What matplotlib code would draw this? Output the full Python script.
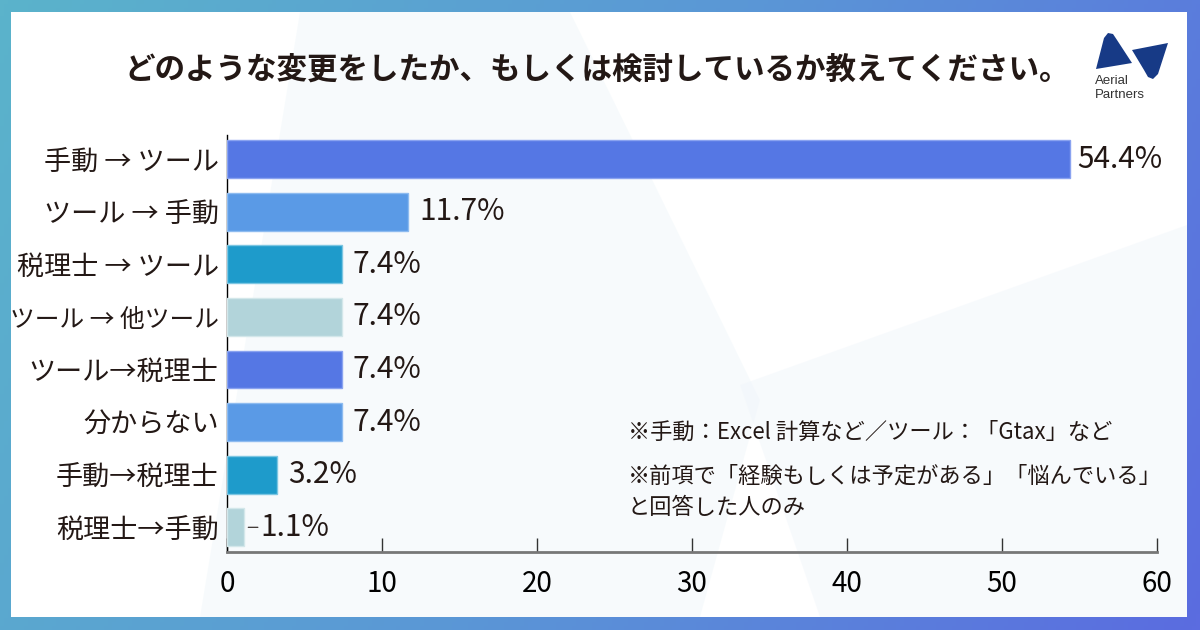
import numpy as np
import matplotlib
matplotlib.use("Agg")
import matplotlib.pyplot as plt
from matplotlib.patches import Rectangle, Polygon
from matplotlib.colors import LinearSegmentedColormap

plt.rcParams['font.family'] = ['Noto Sans CJK JP', 'DejaVu Sans']

# -----------------------------
# Data
# -----------------------------
categories = [
    "手動 → ツール",
    "ツール → 手動",
    "税理士 → ツール",
    "ツール → 他ツール",
    "ツール→税理士",
    "分からない",
    "手動→税理士",
    "税理士→手動",
]
values = [54.4, 11.7, 7.4, 7.4, 7.4, 7.4, 3.2, 1.1]
value_labels = ["54.4%", "11.7%", "7.4%", "7.4%", "7.4%", "7.4%", "3.2%", "1.1%"]
x_ticks = [0, 10, 20, 30, 40, 50, 60]

title = "どのような変更をしたか、もしくは検討しているか教えてください。"
notes = [
    "※手動：Excel 計算など／ツール：「Gtax」など",
    "※前項で「経験もしくは予定がある」「悩んでいる」",
    "と回答した人のみ",
]

bar_colors = ["#5577e4", "#5a9ae6", "#1e9bcb", "#b2d4da"]
edge_colors = ["#8aa3f0", "#8dbbf0", "#7cc6e2", "#d3e7ea"]
TEXT = "#231815"

W, H = 1200, 630


def px(x, y):
    # pixel (from top-left) -> figure fraction
    return (x / W, 1 - y / H)


fig = plt.figure(figsize=(12, 6.3), dpi=100)

# gradient frame
bg = fig.add_axes([0, 0, 1, 1], zorder=-10)
bg.set_axis_off()
gx, gy = np.meshgrid(np.linspace(0, 1, 300), np.linspace(0, 1, 160))
grad = 0.8 * gx + 0.2 * gy
cmap = LinearSegmentedColormap.from_list("frame", ["#5bb3cb", "#5a97d6", "#5b6ce0"])
bg.imshow(grad, cmap=cmap, extent=[0, 1, 0, 1], aspect="auto", origin="upper")
bg.set_xlim(0, 1)
bg.set_ylim(0, 1)
x0, y0 = px(11, 617)
x1, y1 = px(1187, 12)
bg.add_patch(Rectangle((x0, y0), x1 - x0, y1 - y0, facecolor="white", edgecolor="none"))

# faint background shapes
shape1 = [px(300, 12), px(570, 12), px(760, 400), px(700, 617), px(200, 617)]
bg.add_patch(Polygon(shape1, closed=True, facecolor="#eef6fa", edgecolor="none", alpha=0.45))
shape2 = [px(740, 385), px(1187, 225), px(1187, 617), px(820, 617)]
bg.add_patch(Polygon(shape2, closed=True, facecolor="#f1f6fb", edgecolor="none", alpha=0.5))

# logo
logo_c = "#173a86"
left_shape = [px(1096, 69), px(1104, 38), px(1108, 33), px(1113, 34), px(1117, 40), px(1132, 63)]
right_shape = [px(1132, 50), px(1168, 43), px(1158, 74), px(1153, 79), px(1148, 77), px(1144, 70)]
bg.add_patch(Polygon(left_shape, closed=True, facecolor=logo_c, edgecolor="none"))
bg.add_patch(Polygon(right_shape, closed=True, facecolor=logo_c, edgecolor="none"))
fig.text(*px(1095, 81), "Aerial", fontsize=9.5, color="#333333", family="Liberation Sans",
         ha="left", va="center")
fig.text(*px(1095, 95), "Partners", fontsize=9.5, color="#333333", family="Liberation Sans",
         ha="left", va="center")

# title
fig.text(*px(597, 71), title, fontsize=22, fontweight="bold", color=TEXT,
         ha="center", va="center")

# -----------------------------
# Chart
# -----------------------------
ax_l, ax_b = px(227, 552)
ax_r, ax_t = px(1157, 135)
ax = fig.add_axes([ax_l, ax_b, ax_r - ax_l, ax_t - ax_b])
ax.patch.set_alpha(0)

y = np.arange(len(categories))
colors = [bar_colors[i % 4] for i in range(len(categories))]
edges = [edge_colors[i % 4] for i in range(len(categories))]
ax.barh(y, values, height=0.72, color=colors, edgecolor=edges, linewidth=1.0, zorder=3)

for i, (v, lab) in enumerate(zip(values, value_labels)):
    if v < 2:
        ax.annotate(lab, xy=(v, i), xytext=(12, 0), textcoords="offset points",
                    ha="left", va="center", fontsize=21.5, color=TEXT,
                    arrowprops=dict(arrowstyle="-", color=TEXT, lw=0.8, shrinkA=0, shrinkB=3))
    else:
        ax.annotate(lab, xy=(v, i), xytext=(5 if v > 50 else 8, 0), textcoords="offset points",
                    ha="left", va="center", fontsize=21.5, color=TEXT)

ax.set_xlim(0, 60)
ax.set_ylim(len(categories) - 0.53, -0.46)
ax.set_xticks(x_ticks)
ax.set_xticklabels([str(t) for t in x_ticks])
ax.set_yticks(y)
ax.set_yticklabels(categories)

ax.tick_params(axis="x", direction="in", length=10, width=1, color="#333333",
               labelsize=20, labelcolor="black", pad=12)
ax.tick_params(axis="y", length=0, labelsize=19.5, labelcolor=TEXT, pad=6)
# the longest label is set a bit tighter so it fits inside the frame
ax.get_yticklabels()[3].set_fontsize(17.8)

for s in ["top", "right"]:
    ax.spines[s].set_visible(False)
ax.spines["left"].set_color("black")
ax.spines["left"].set_linewidth(1)
ax.spines["bottom"].set_color("#777777")
ax.spines["bottom"].set_linewidth(2)

# notes
note_y = [432, 476, 508]
for txt, ny in zip(notes, note_y):
    fig.text(*px(628, ny), txt, fontsize=16, color=TEXT, ha="left", va="center")

fig.savefig("out.png", dpi=100)
